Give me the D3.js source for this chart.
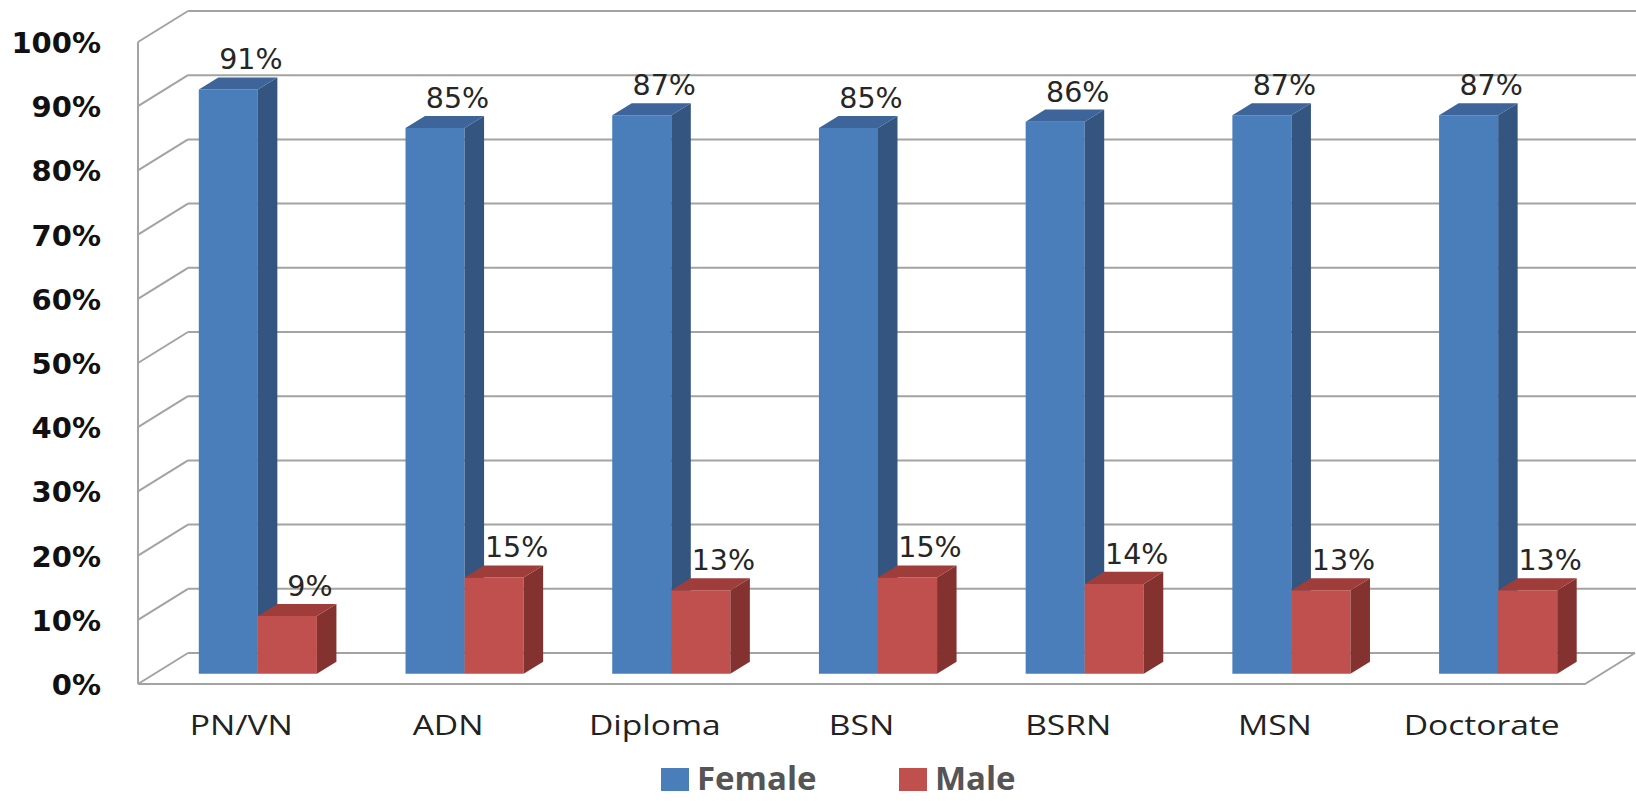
<!DOCTYPE html>
<html>
<head>
<meta charset="utf-8">
<script src="https://cdn.jsdelivr.net/npm/d3@7"></script>
<style>
  html, body { margin: 0; padding: 0; background: #ffffff; }
  svg { display: block; }
</style>
</head>
<body>
<svg id="chart" width="1636" height="801"></svg>
<script>
// Gender share by nursing education level
const categories = ["PN/VN", "ADN", "Diploma", "BSN", "BSRN", "MSN", "Doctorate"];
const seriesNames = ["Female", "Male"];
const female = [91, 85, 87, 85, 86, 87, 87];
const male = [9, 15, 13, 15, 14, 13, 13];
const yTicks = [0, 10, 20, 30, 40, 50, 60, 70, 80, 90, 100];

const colors = {
  Female: { front: "#4a7ebb", side: "#34557f", top: "#3d6599" },
  Male:   { front: "#c0504d", side: "#843230", top: "#9f3d3a" }
};

const svg = d3.select("#chart");

// Front plane of the 3-D box
const plotLeft = 138, plotRight = 1585;
const y = d3.scaleLinear().domain([0, 100]).range([684, 42]);
const x0 = d3.scaleBand().domain(categories).range([plotLeft, plotRight]);
const x1 = d3.scaleBand().domain(seriesNames).range([0, x0.bandwidth()]).paddingOuter(0.75);

// Depth vector of the whole box and depth span occupied by the columns
const depthX = 50, depthY = -31;
const barNear = 0.33, barFar = 0.72;
const proj = (px, py, d) => [px + depthX * d, py + depthY * d];

const gridColor = "#a3a3a3";
const walls = svg.append("g").attr("fill", "none").attr("stroke", gridColor).attr("stroke-width", 2);

// Back wall gridlines and side wall slants
yTicks.forEach(t => {
  const [bx, by] = proj(plotLeft, y(t), 1);
  walls.append("line").attr("x1", plotLeft).attr("y1", y(t)).attr("x2", bx).attr("y2", by);
  walls.append("line").attr("x1", bx).attr("y1", by).attr("x2", t === 0 ? plotRight + depthX : 1636).attr("y2", by);
});
// Side wall front edge
walls.append("line").attr("x1", plotLeft).attr("y1", y(100)).attr("x2", plotLeft).attr("y2", y(0));
// Floor front edge and right slant
const [fx, fy] = proj(plotRight, y(0), 1);
walls.append("path").attr("d", `M${plotLeft},${y(0)}L${plotRight},${y(0)}L${fx},${fy}`);

// Y axis labels
const yAxis = d3.axisLeft(y).tickValues(yTicks).tickSize(0).tickPadding(0).tickFormat(d => d + "%");
const gy = svg.append("g").attr("transform", "translate(101,0)").call(yAxis);
gy.select(".domain").remove();
gy.selectAll("text")
  .attr("font-family", "'DejaVu Sans', Verdana, sans-serif")
  .attr("font-weight", "bold")
  .attr("font-size", 29)
  .attr("fill", "#111111")
  .attr("dy", "0.36em");

// Category labels
const xAxis = d3.axisBottom(x0).tickSize(0).tickPadding(0);
const gx = svg.append("g").call(xAxis);
gx.select(".domain").remove();
gx.selectAll("text")
  .attr("font-family", "'Open Sans', sans-serif")
  .attr("font-size", 28)
  .attr("fill", "#222222")
  .attr("y", 735)
  .attr("dy", 0)
  .attr("transform", "scale(1.2,1)");

// Columns
const rows = categories.map((c, i) => ({ category: c, values: [
  { series: "Female", value: female[i] },
  { series: "Male", value: male[i] }
]}));

const bars = svg.append("g");
rows.forEach(row => {
  row.values.forEach(d => {
    const col = colors[d.series];
    const xl = x0(row.category) + x1(d.series);
    const xr = xl + x1.bandwidth();
    const yt = y(d.value), yb = y(0);
    const a = proj(xl, yt, barNear), b = proj(xr, yt, barNear);
    const c = proj(xr, yb, barNear), e = proj(xl, yb, barNear);
    const bf = proj(xr, yt, barFar), cf = proj(xr, yb, barFar), af = proj(xl, yt, barFar);
    const g = bars.append("g");
    g.append("polygon").attr("points", [a, b, c, e].map(p => p.join(",")).join(" ")).attr("fill", col.front);
    g.append("polygon").attr("points", [b, bf, cf, c].map(p => p.join(",")).join(" ")).attr("fill", col.side);
    g.append("polygon").attr("points", [a, af, bf, b].map(p => p.join(",")).join(" ")).attr("fill", col.top);
    const [lx, ly] = proj((xl + xr) / 2, yt, barFar);
    g.append("text")
      .attr("x", lx + 3)
      .attr("y", ly - 8)
      .attr("text-anchor", "middle")
      .attr("font-family", "'DejaVu Sans', Verdana, sans-serif")
      .attr("font-size", 28.5)
      .attr("fill", "#262626")
      .text(d.value + "%");
  });
});

// Legend
const legendItems = [
  { name: "Female", x: 661 },
  { name: "Male", x: 899 }
];
const legend = svg.append("g");
legendItems.forEach(it => {
  legend.append("rect").attr("x", it.x).attr("y", 768).attr("width", 28).attr("height", 23)
    .attr("fill", colors[it.name].front);
  legend.append("text").attr("x", it.x + 36).attr("y", 790)
    .attr("font-family", "'Open Sans', sans-serif")
    .attr("font-weight", "bold")
    .attr("font-size", 33)
    .attr("fill", "#555555")
    .text(it.name);
});
</script>
</body>
</html>
